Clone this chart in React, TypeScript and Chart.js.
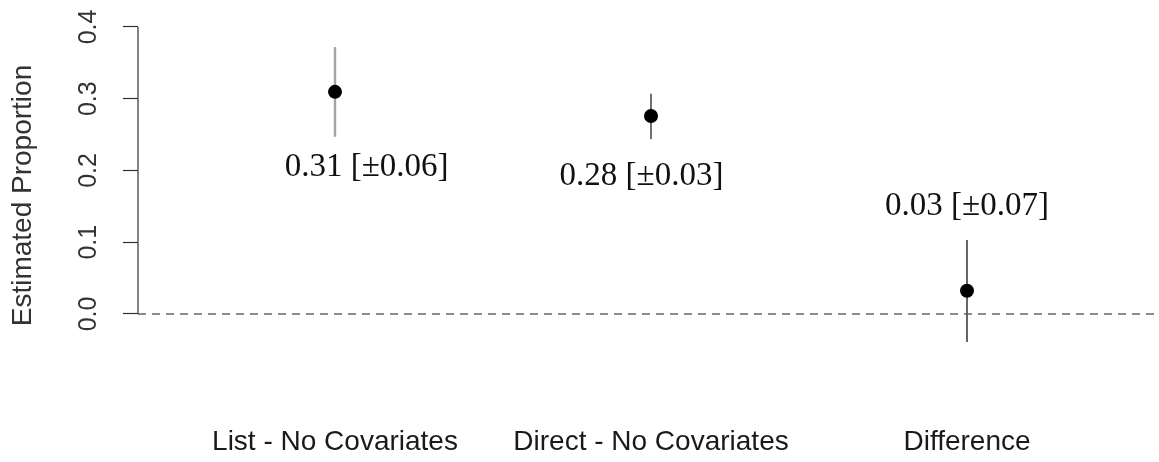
import React, { useEffect, useRef } from "react";
import { Chart, registerables } from "chart.js";

Chart.register(...registerables);

// ---- data ----
const categories = ["List - No Covariates", "Direct - No Covariates", "Difference"];
const positions = [1, 2, 3];
const estimates = [0.3096, 0.276, 0.0325];
const lowerBounds = [0.247, 0.2437, -0.039];
const upperBounds = [0.372, 0.307, 0.103];
const annotationTexts = ["0.31 [±0.06]", "0.28 [±0.03]", "0.03 [±0.07]"];
const annotationX = [1.1, 1.97, 3.0];
const annotationY = [0.205, 0.192, 0.15];
const yTicks = [0, 0.1, 0.2, 0.3, 0.4];
const yLimits = [-0.0892, 0.4195];
const xLimits = [0.3766, 3.6076];

const barColors = ["#a3a3a3", "#707070", "#555555"];
const barWidths = [2.4, 2, 1.8];

const overlayPlugin = {
  id: "overlayPlugin",
  beforeDatasetsDraw(chart: any) {
    const { ctx, chartArea, scales } = chart;
    const xs = scales.x;
    const ys = scales.y;
    ctx.save();
    // reference line at zero
    const y0 = ys.getPixelForValue(0);
    ctx.strokeStyle = "#666666";
    ctx.lineWidth = 1.6;
    ctx.setLineDash([8, 6]);
    ctx.beginPath();
    ctx.moveTo(chartArea.left, y0);
    ctx.lineTo(chartArea.right, y0);
    ctx.stroke();
    ctx.setLineDash([]);
    // y axis line spanning tick range
    ctx.strokeStyle = "#333333";
    ctx.lineWidth = 1.2;
    ctx.beginPath();
    ctx.moveTo(chartArea.left, ys.getPixelForValue(yTicks[0]));
    ctx.lineTo(chartArea.left, ys.getPixelForValue(yTicks[yTicks.length - 1]));
    ctx.stroke();
    // error bars
    for (let i = 0; i < positions.length; i++) {
      const px = xs.getPixelForValue(positions[i]);
      ctx.strokeStyle = barColors[i];
      ctx.lineWidth = barWidths[i];
      ctx.beginPath();
      ctx.moveTo(px, ys.getPixelForValue(lowerBounds[i]));
      ctx.lineTo(px, ys.getPixelForValue(upperBounds[i]));
      ctx.stroke();
    }
    ctx.restore();
  },
  afterDatasetsDraw(chart: any) {
    const { ctx, scales } = chart;
    ctx.save();
    ctx.font = '33px "Liberation Serif"';
    ctx.fillStyle = "#111111";
    ctx.textAlign = "center";
    ctx.textBaseline = "middle";
    for (let i = 0; i < annotationTexts.length; i++) {
      ctx.fillText(
        annotationTexts[i],
        scales.x.getPixelForValue(annotationX[i]),
        scales.y.getPixelForValue(annotationY[i])
      );
    }
    ctx.restore();
  },
};

export default function App() {
  const canvasRef = useRef<HTMLCanvasElement | null>(null);

  useEffect(() => {
    document.body.style.margin = "0";
    const canvas = canvasRef.current;
    if (!canvas) return;
    const chart = new Chart(canvas, {
      type: "scatter",
      data: {
        datasets: [
          {
            data: positions.map((p, i) => ({ x: p, y: estimates[i] })),
            backgroundColor: "#000000",
            borderColor: "#000000",
            borderWidth: 0,
            pointRadius: 7,
            pointHoverRadius: 7,
          },
        ],
      },
      options: {
        responsive: false,
        animation: false,
        devicePixelRatio: 1,
        layout: { autoPadding: false, padding: { top: 13, left: 0, right: 0, bottom: 0 } },
        plugins: {
          legend: { display: false },
          tooltip: { enabled: false },
        },
        scales: {
          x: {
            type: "linear",
            min: xLimits[0],
            max: xLimits[1],
            afterBuildTicks: (scale: any) => {
              scale.ticks = positions.map((v) => ({ value: v }));
            },
            afterFit: (scale: any) => {
              scale.height = 84;
              scale.paddingLeft = 0;
              scale.paddingRight = 0;
            },
            grid: { display: false, drawTicks: false },
            border: { display: false },
            ticks: {
              autoSkip: false,
              minRotation: 0,
              maxRotation: 0,
              padding: 47,
              color: "#1a1a1a",
              font: { family: "Liberation Sans", size: 28 },
              callback: (_v: any, index: number) => categories[index],
            },
          },
          y: {
            type: "linear",
            min: yLimits[0],
            max: yLimits[1],
            afterBuildTicks: (scale: any) => {
              scale.ticks = yTicks.map((v) => ({ value: v }));
            },
            afterFit: (scale: any) => {
              scale.width = 138;
              scale.paddingTop = 0;
              scale.paddingBottom = 0;
            },
            border: { display: false },
            grid: {
              display: true,
              drawOnChartArea: false,
              drawTicks: true,
              tickLength: 15,
              tickColor: "#333333",
              tickWidth: 1.2,
            },
            ticks: {
              autoSkip: false,
              minRotation: 90,
              maxRotation: 90,
              crossAlign: "center",
              padding: 17,
              color: "#333333",
              font: { family: "Liberation Sans", size: 25 },
              callback: (v: any) => Number(v).toFixed(1),
            },
            title: {
              display: true,
              text: "Estimated Proportion",
              color: "#333333",
              font: { family: "Liberation Sans", size: 28 },
              padding: { top: 6, bottom: 0 },
            },
          },
        },
      },
      plugins: [overlayPlugin],
    } as any);
    return () => chart.destroy();
  }, []);

  return (
    <div style={{ width: 1159, height: 462 }}>
      <canvas ref={canvasRef} width={1159} height={462} style={{ display: "block" }} />
    </div>
  );
}
